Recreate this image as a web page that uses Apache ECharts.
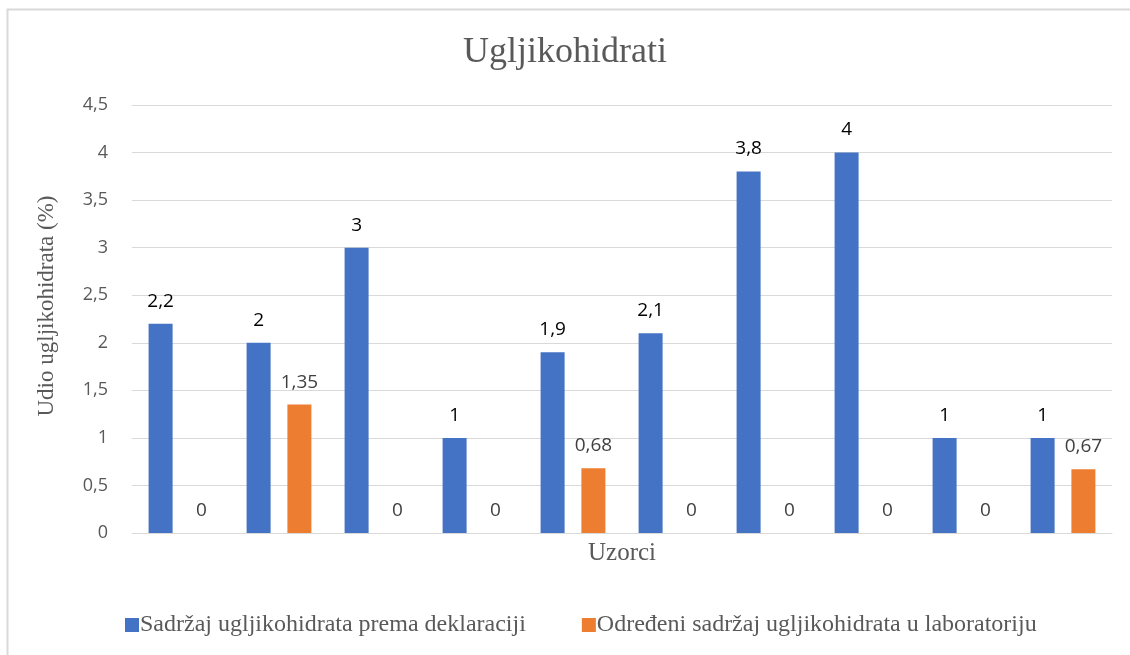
<!DOCTYPE html>
<html>
<head>
<meta charset="utf-8">
<script src="https://cdn.jsdelivr.net/npm/echarts@6/dist/echarts.min.js"></script>
<style>html,body{margin:0;padding:0;background:#fff;}#c{width:1130px;height:655px;}</style>
</head>
<body>
<div id="c"></div>
<script>
const categories = ['1','2','3','4','5','6','7','8','9','10'];
const declared = [2.2, 2, 3, 1, 1.9, 2.1, 3.8, 4, 1, 1];
const lab = [0, 1.35, 0, 0, 0.68, 0, 0, 0, 0, 0.67];
const seriesNames = ['Sadržaj ugljikohidrata prema deklaraciji', 'Određeni sadržaj ugljikohidrata u laboratoriju'];
const yTicks = {min: 0, max: 4.5, interval: 0.5};

const chart = echarts.init(document.getElementById('c'));
const fmt = p => String(p.value).replace('.', ',');
chart.setOption({
  animation: false,
  backgroundColor: '#fff',
  title: {
    text: 'Ugljikohidrati', left: 'center', top: 30,
    textStyle: {fontFamily: 'Liberation Serif', fontSize: 36, fontWeight: 'normal', color: '#595959'}
  },
  graphic: [
    {type: 'rect', shape: {x: 7.5, y: 9.5, width: 1140, height: 680}, style: {fill: 'none', stroke: '#d9d9d9', lineWidth: 2}, silent: true},
    {type: 'text', x: 47, y: 306, rotation: Math.PI / 2,
      style: {text: 'Udio ugljikohidrata (%)', fontFamily: 'Liberation Serif', fontSize: 23, fill: '#595959', align: 'center', verticalAlign: 'middle'}}
  ],
  legend: {
    bottom: 13, left: 120, itemGap: 56, itemWidth: 14, itemHeight: 14,
    icon: 'rect',
    textStyle: {fontFamily: 'Liberation Serif', fontSize: 24, color: '#595959', padding: [0, 0, 0, -4]},
    data: seriesNames
  },
  grid: {left: 132, right: 18, top: 105, bottom: 122, containLabel: false},
  xAxis: {
    type: 'category', data: categories,
    name: 'Uzorci', nameLocation: 'middle', nameGap: 8,
    nameTextStyle: {fontFamily: 'Liberation Serif', fontSize: 25, color: '#595959'},
    axisLabel: {show: false}, axisTick: {show: false},
    axisLine: {lineStyle: {color: '#d9d9d9', width: 1}}
  },
  yAxis: {
    type: 'value', min: yTicks.min, max: yTicks.max, interval: yTicks.interval,
    axisLabel: {formatter: v => String(v).replace('.', ','), fontFamily: 'Open Sans', fontSize: 18, color: '#595959', margin: 24},
    axisLine: {show: false}, axisTick: {show: false},
    splitLine: {lineStyle: {color: '#d9d9d9', width: 1}}
  },
  series: [
    {
      name: seriesNames[0], type: 'bar', data: declared, barWidth: 24, barGap: '70%', barCategoryGap: '33.7%',
      itemStyle: {color: '#4472c4'},
      label: {show: true, position: 'top', distance: 13, formatter: fmt, fontFamily: 'Open Sans', fontSize: 19, color: '#000'}
    },
    {
      name: seriesNames[1], type: 'bar', data: lab, barWidth: 24,
      itemStyle: {color: '#ed7d31'},
      label: {show: true, position: 'top', distance: 13, formatter: fmt, fontFamily: 'Open Sans', fontSize: 19, color: '#404040'}
    }
  ]
});
</script>
</body>
</html>
